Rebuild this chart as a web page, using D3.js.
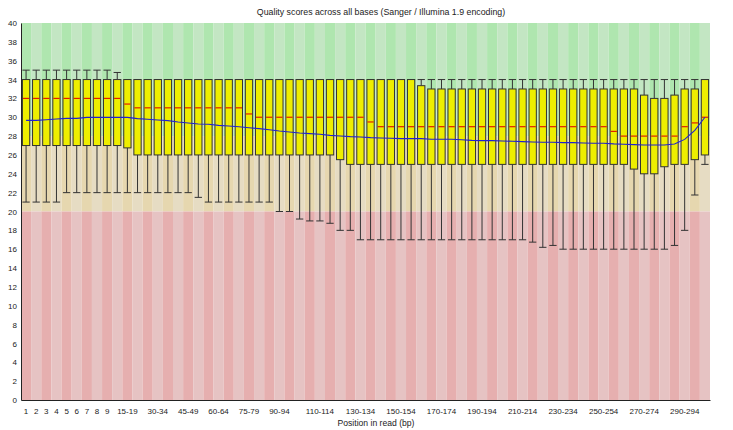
<!DOCTYPE html>
<html>
<head>
<meta charset="utf-8">
<script src="https://cdn.jsdelivr.net/npm/d3@7/dist/d3.min.js"></script>
<style>
  html, body { margin: 0; padding: 0; background: #fff; }
  svg { display: block; }
  text { font-family: "Liberation Sans", Arial, sans-serif; fill: #222; }
</style>
</head>
<body>
<svg id="chart" width="733" height="430"></svg>
<script>
// Positions in read (single bases 1-9, then 5-base groups)
const categories = [
  "1","2","3","4","5","6","7","8","9",
  "10-14","15-19","20-24","25-29","30-34","35-39","40-44","45-49","50-54","55-59",
  "60-64","65-69","70-74","75-79","80-84","85-89","90-94","95-99","100-104","105-109",
  "110-114","115-119","120-124","125-129","130-134","135-139","140-144","145-149","150-154","155-159",
  "160-164","165-169","170-174","175-179","180-184","185-189","190-194","195-199","200-204","205-209",
  "210-214","215-219","220-224","225-229","230-234","235-239","240-244","245-249","250-254","255-259",
  "260-264","265-269","270-274","275-279","280-284","285-289","290-294","295-299","300-301"
];

// 90th percentile
const upperWhisker = [
  35,35,35,35,35,35,35,35,35,34.75,
  34,34,34,34,34,34,34,34,34,34,34,34,34,34,34,34,34,34,34,34,
  34,34,34,34,34,34,34,34,34,34,34,34,34,34,34,34,34,34,34,34,
  34,34,34,34,34,34,34,34,34,34,34,34,34,34,34,34,34,34
];
// upper quartile
const upperQuartile = [
  34,34,34,34,34,34,34,34,34,34,
  34,34,34,34,34,34,34,34,34,34,34,34,34,34,34,34,34,34,34,34,
  34,34,34,34,34,34,34,34,34,33.35,33,33,33,33,33,33,33,33,33,33,
  33,33,33,33,33,33,33,33,33,33,33,32.35,32,32,32.35,33,33,34
];
// median
const median = [
  32,32,32,32,32,32,32,32,32,32,
  31.4,31,31,31,31,31,31,31,31,31,31,31,30.35,30,30,30,30,30,30,30,
  30,30,30,30,29.5,29,29,29,29,29,29,29,29,29,29,29,29,29,29,29,
  29,29,29,29,29,29,29,29,28.5,28,28,28,28,28,28,29,29.4,30
];
// lower quartile
const lowerQuartile = [
  27,27,27,27,27,27,27,27,27,27,
  26.75,26,26,26,26,26,26,26,26,26,26,26,26,26,26,26,26,26,26,26,
  26,25.5,25,25,25,25,25,25,25,25,25,25,25,25,25,25,25,25,25,25,
  25,25,25,25,25,25,25,25,25,25,24.5,24,24,24.75,25,25,25.5,26
];
// 10th percentile
const lowerWhisker = [
  21,21,21,21,22,22,22,22,22,22,
  22,22,22,22,22,22,22,21.5,21,21,21,21,21,21,21,20,20,19.2,19,19,
  18.75,18,18,17,17,17,17,17,17,17,17,17,17,17,17,17,17,17,17,17,
  16.75,16.2,16.4,16,16,16,16,16,16,16,16,16,16,16,16.4,18,21.75,25
];
// mean quality
const mean = [
  29.67,29.67,29.74,29.81,29.88,29.88,29.99,29.99,29.99,29.99,
  29.99,29.85,29.78,29.71,29.64,29.50,29.39,29.28,29.25,29.14,
  29.07,29.00,28.89,28.79,28.68,28.54,28.44,28.33,28.26,28.19,
  28.08,28.01,27.94,27.91,27.84,27.80,27.77,27.73,27.73,27.73,
  27.66,27.66,27.66,27.62,27.55,27.52,27.52,27.48,27.45,27.41,
  27.38,27.34,27.34,27.31,27.31,27.27,27.24,27.24,27.17,27.13,
  27.10,27.06,27.06,27.06,27.17,27.65,28.6,30.0
];

const xTickLabels = [
  "1","2","3","4","5","6","7","8","9","15-19","30-34","45-49","60-64","75-79","90-94",
  "110-114","130-134","150-154","170-174","190-194","210-214","230-234","250-254","270-274","290-294"
];
const yTicks = d3.range(0, 41, 2);

const title = "Quality scores across all bases (Sanger / Illumina 1.9 encoding)";
const xTitle = "Position in read (bp)";

// Quality zones: [from, to, dark colour, light colour]
const zones = [
  [28, 40, "#afe6af", "#c3e6c3"],
  [20, 28, "#e6d7af", "#e6dcc3"],
  [0, 20, "#e6afaf", "#e6c3c3"]
];

const svg = d3.select("#chart");
const plotLeft = 21, plotRight = 710, plotTop = 23, plotBottom = 400;

const x = d3.scaleBand().domain(categories).range([plotLeft, plotRight]).padding(0);
const y = d3.scaleLinear().domain([0, 40]).range([plotBottom, plotTop]);
const bw = x.bandwidth();
const boxW = bw * 0.72;
const cx = d => x(d) + bw / 2;

// striped background
const bg = svg.append("g");
categories.forEach((c, i) => {
  zones.forEach(z => {
    bg.append("rect")
      .attr("x", x(c)).attr("width", bw)
      .attr("y", y(z[1])).attr("height", y(z[0]) - y(z[1]))
      .attr("fill", i % 2 === 0 ? z[2] : z[3]);
  });
});

// box plots
const boxes = svg.append("g").selectAll("g").data(categories).join("g");
boxes.each(function(c, i) {
  const g = d3.select(this);
  const xc = cx(c);
  const stroke = "#333";
  // whiskers
  g.append("line").attr("x1", xc).attr("x2", xc)
    .attr("y1", y(upperWhisker[i])).attr("y2", y(upperQuartile[i]))
    .attr("stroke", stroke).attr("stroke-width", 1);
  g.append("line").attr("x1", xc).attr("x2", xc)
    .attr("y1", y(lowerQuartile[i])).attr("y2", y(lowerWhisker[i]))
    .attr("stroke", stroke).attr("stroke-width", 1);
  [upperWhisker[i], lowerWhisker[i]].forEach(v => {
    g.append("line").attr("x1", xc - boxW / 2).attr("x2", xc + boxW / 2)
      .attr("y1", y(v)).attr("y2", y(v))
      .attr("stroke", stroke).attr("stroke-width", 1);
  });
  // box
  g.append("rect")
    .attr("x", xc - boxW / 2).attr("width", boxW)
    .attr("y", y(upperQuartile[i])).attr("height", y(lowerQuartile[i]) - y(upperQuartile[i]))
    .attr("fill", "#eeee00").attr("stroke", stroke).attr("stroke-width", 1);
  // median
  g.append("line").attr("x1", xc - boxW / 2 + 0.5).attr("x2", xc + boxW / 2 - 0.5)
    .attr("y1", y(median[i])).attr("y2", y(median[i]))
    .attr("stroke", "#e02000").attr("stroke-width", 1.2);
});

// mean line
svg.append("path")
  .datum(mean)
  .attr("fill", "none")
  .attr("stroke", "#2020d0")
  .attr("stroke-width", 1.1)
  .attr("d", d3.line().x((d, i) => cx(categories[i])).y(d => y(d)));

// axes
const yAxis = svg.append("g").attr("transform", `translate(${plotLeft},0)`)
  .call(d3.axisLeft(y).tickValues(yTicks).tickSize(0).tickPadding(4));
const xAxis = svg.append("g").attr("transform", `translate(0,${plotBottom})`)
  .call(d3.axisBottom(x).tickValues(xTickLabels).tickSize(0).tickPadding(8));
[yAxis, xAxis].forEach(a => {
  a.select(".domain").attr("stroke", "#222").attr("stroke-width", 1);
  a.selectAll("text").attr("font-size", "8px").attr("fill", "#222")
    .attr("font-family", "'Liberation Sans', Arial, sans-serif");
});

svg.append("text").attr("x", 381).attr("y", 15)
  .attr("text-anchor", "middle").attr("font-size", "8.8px").text(title);
svg.append("text").attr("x", 376).attr("y", 426)
  .attr("text-anchor", "middle").attr("font-size", "8.6px").text(xTitle);
</script>
</body>
</html>
